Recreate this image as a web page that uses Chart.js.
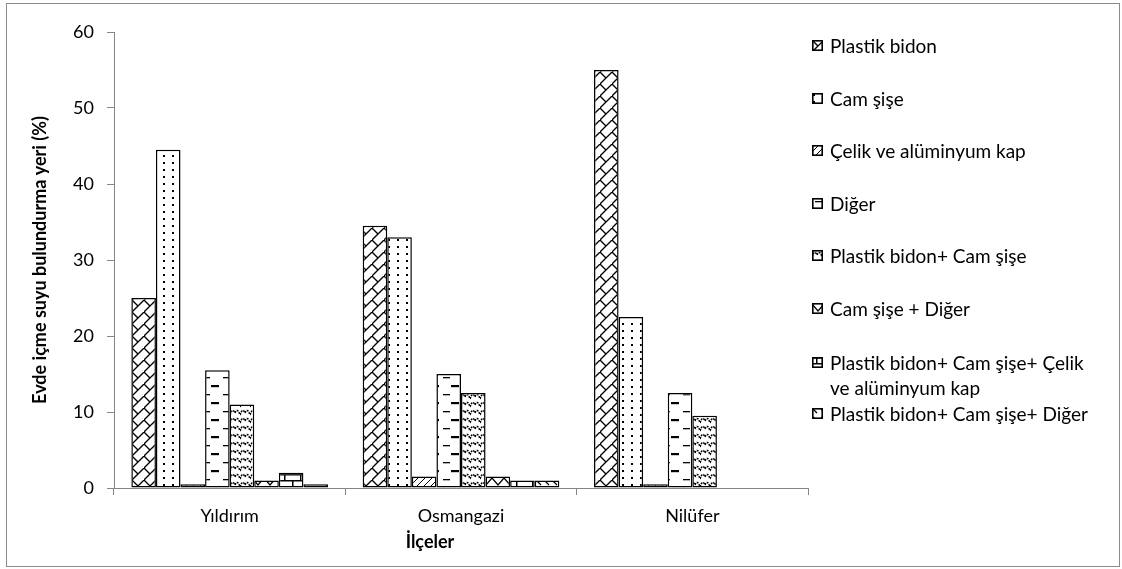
<!DOCTYPE html>
<html lang="tr">
<head>
<meta charset="utf-8">
<title>Evde içme suyu bulundurma yeri</title>
<script src="https://cdn.jsdelivr.net/npm/chart.js@4.4.0/dist/chart.umd.min.js"></script>
<style>
  html, body { margin: 0; padding: 0; background: #fff; }
  #wrap { position: relative; width: 1122px; height: 569px; overflow: hidden; }
  #frame { position: absolute; left: 6px; top: 3px; width: 1112px; height: 562px; border: 1.5px solid #8c8c8c; }
  #c { position: absolute; left: 0; top: 0; }
  #xtitle { position: absolute; left: 330px; width: 200px; top: 530px; text-align: center;
            font: bold 18px Lato, "Open Sans", sans-serif; color: #000; line-height: 22px; }
  #legend { position: absolute; left: 812px; top: 0; font-family: Lato, "Open Sans", sans-serif;
            font-size: 19px; color: #000; }
  .item { position: absolute; left: 0; width: 290px; display: flex; align-items: flex-start; line-height: 25px; }
  .item canvas { flex: 0 0 auto; margin-top: 7px; margin-right: 7px; }
  .item span { display: block; width: 270px; }
</style>
</head>
<body>
<div id="wrap">
  <div id="frame"></div>
  <canvas id="c" width="1122" height="569"></canvas>
  <div id="xtitle">İlçeler</div>
  <div id="legend"></div>
</div>
<script>
// İlçeler (districts) on the category axis
const categories = ['Yıldırım', 'Osmangazi', 'Nilüfer'];

// Storage container types (series names)
const seriesNames = [
  'Plastik bidon',
  'Cam şişe',
  'Çelik ve alüminyum kap',
  'Diğer',
  'Plastik bidon+ Cam şişe',
  'Cam şişe + Diğer',
  'Plastik bidon+ Cam şişe+ Çelik ve alüminyum kap',
  'Plastik bidon+ Cam şişe+ Diğer'
];

// Share of households (%) per district
const plastikBidon     = [25, 34.5, 55];
const camSise          = [44.5, 33, 22.5];
const celikAluminyum   = [0.5, 1.5, 0.5];
const diger            = [15.5, 15, 12.5];
const plastikCam       = [11, 12.5, 9.5];
const camDiger         = [1, 1.5, 0];
const plastikCamCelik  = [2, 1, 0];
const plastikCamDiger  = [0.5, 1, 0];

const yTicks = [0, 10, 20, 30, 40, 50, 60];

const seriesValues = [plastikBidon, camSise, celikAluminyum, diger,
                      plastikCam, camDiger, plastikCamCelik, plastikCamDiger];

// Legend line centres (px from top)
const legendCenters = [45, 98, 150, 203, 255, 308, 362, 413];

// --- hatch tiles for the monochrome fills ---
function tile(w, h, draw) {
  const c = document.createElement('canvas');
  c.width = w; c.height = h;
  const g = c.getContext('2d');
  g.fillStyle = '#fff'; g.fillRect(0, 0, w, h);
  g.strokeStyle = '#000'; g.fillStyle = '#000';
  g.lineWidth = 1.2;
  draw(g, w, h);
  return c;
}
function line(g, pts) {
  g.beginPath();
  g.moveTo(pts[0][0], pts[0][1]);
  for (let i = 1; i < pts.length; i++) g.lineTo(pts[i][0], pts[i][1]);
  g.stroke();
}

const tiles = [
  // zig-zag diagonal
  tile(12, 12, (g) => {
    g.lineWidth = 1.3;
    line(g, [[-1, 13], [13, -1]]);
    line(g, [[0, 0], [6, 6]]);
  }),
  // sparse dots
  tile(9, 7, (g) => { g.fillRect(1, 1, 2, 2); }),
  // light upward diagonal
  tile(7, 7, (g) => {
    g.lineWidth = 1;
    line(g, [[-1, 8], [8, -1]]);
  }),
  // horizontal dashes
  tile(20, 17, (g) => {
    g.fillRect(3, 3, 7, 1.3);
    g.fillRect(11, 11, 8, 2.2);
  }),
  // small dotted waves
  tile(10, 8, (g) => {
    g.lineWidth = 1.5;
    g.setLineDash([2, 1]);
    g.beginPath();
    g.moveTo(0, 7);
    g.quadraticCurveTo(2.5, -1, 5, 5);
    g.quadraticCurveTo(7.5, -1, 10, 7);
    g.stroke();
  }),
  // zig-zag
  tile(12, 9, (g) => { line(g, [[0, 1], [6, 8], [12, 1]]); }),
  // bricks
  tile(16, 12, (g) => {
    g.lineWidth = 1.5;
    line(g, [[0, 0.75], [16, 0.75]]);
    line(g, [[0, 6.75], [16, 6.75]]);
    line(g, [[4.75, 0], [4.75, 6.75]]);
    line(g, [[12.75, 6.75], [12.75, 12]]);
  }),
  // dashed downward diagonal
  tile(8, 8, (g) => { line(g, [[1, 1], [5, 5]]); })
];

const ctx = document.getElementById('c').getContext('2d');
const patterns = tiles.map(t => ctx.createPattern(t, 'repeat'));

const datasets = seriesNames.map((name, i) => ({
  label: name,
  data: seriesValues[i],
  backgroundColor: patterns[i],
  borderColor: '#000',
  borderWidth: 1.5,
  borderSkipped: false
}));

const axisGrey = '#868686';
const tickFont = { family: 'Lato, "Open Sans", sans-serif', size: 18 };

new Chart(ctx, {
  type: 'bar',
  data: { labels: categories, datasets },
  options: {
    responsive: false,
    animation: false,
    events: [],
    layout: { padding: { left: 0, right: 314, top: 32, bottom: 0 } },
    datasets: { bar: { categoryPercentage: 0.85, barPercentage: 1.0 } },
    plugins: { legend: { display: false }, tooltip: { enabled: false } },
    scales: {
      x: {
        grid: { display: true, drawOnChartArea: false, drawTicks: true, tickLength: 7,
                color: axisGrey, offset: true },
        border: { display: true, color: axisGrey, width: 1 },
        ticks: { color: '#000', font: tickFont, padding: 10 },
        afterFit: (s) => { s.height = 569 - 488; }
      },
      y: {
        min: 0, max: 60,
        afterBuildTicks: (s) => { s.ticks = yTicks.map(v => ({ value: v })); },
        grid: { display: true, drawOnChartArea: false, drawTicks: true, tickLength: 7,
                color: axisGrey },
        border: { display: true, color: axisGrey, width: 1 },
        ticks: { color: '#000', font: tickFont, padding: 13 },
        title: {
          display: true,
          text: 'Evde içme suyu bulundurma yeri (%)',
          color: '#000',
          font: { family: 'Lato, "Open Sans", sans-serif', size: 18, weight: 'bold' },
          padding: { top: 29, bottom: 0 }
        },
        afterFit: (s) => { s.width = 114; }
      }
    }
  }
});

// Legend built from the same series and hatch tiles
const legend = document.getElementById('legend');
seriesNames.forEach((name, i) => {
  const item = document.createElement('div');
  item.className = 'item';
  item.style.top = (legendCenters[i] - 12.5) + 'px';
  const sw = document.createElement('canvas');
  sw.width = 11; sw.height = 11;
  const sg = sw.getContext('2d');
  sg.fillStyle = sg.createPattern(tiles[i], 'repeat');
  sg.fillRect(0, 0, 11, 11);
  sg.strokeStyle = '#000'; sg.lineWidth = 1.6;
  sg.strokeRect(0.8, 0.8, 9.4, 9.4);
  const txt = document.createElement('span');
  txt.textContent = name;
  item.appendChild(sw);
  item.appendChild(txt);
  legend.appendChild(item);
});
</script>
</body>
</html>
